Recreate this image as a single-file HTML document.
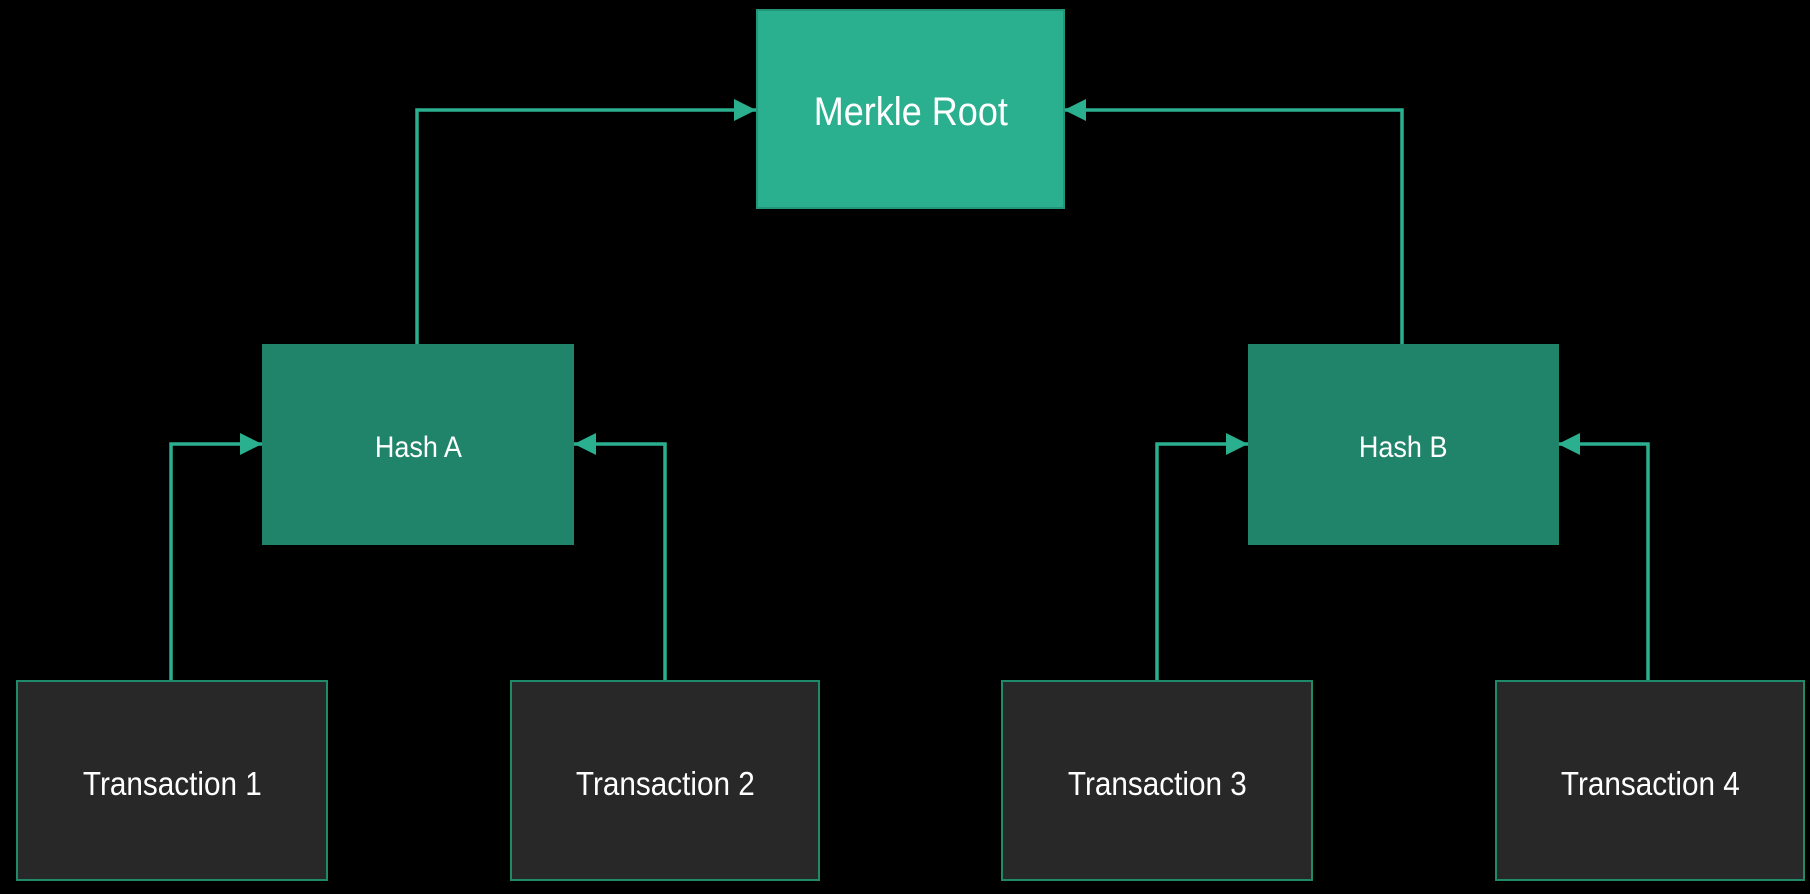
<!DOCTYPE html>
<html><head><meta charset="utf-8"><style>
html,body{margin:0;padding:0;background:#000;}
body{width:1810px;height:894px;position:relative;overflow:hidden;font-family:"Liberation Sans",sans-serif;}
.b{position:absolute;display:flex;align-items:center;justify-content:center;color:#fff;box-sizing:border-box;}
.b span{display:inline-block;transform:scaleX(0.9);position:relative;top:3px;}
.m{background:#2bb08f;border:2px solid #23967a;font-size:40px;}
.h{background:#20846a;font-size:30px;}
.t{background:#282828;border:2px solid #1f8a6a;font-size:33px;}
svg{position:absolute;left:0;top:0;}
</style></head><body>
<svg width="1810" height="894">
<defs>
<marker id="ar" viewBox="0 0 10 10" refX="10" refY="5" markerWidth="22" markerHeight="22" markerUnits="userSpaceOnUse" orient="auto"><path d="M0,0 L10,5 L0,10z" fill="#2bb08f"/></marker></defs>
<g fill="none" stroke="#2bb08f" stroke-width="3.5">
<path d="M417,344 V110 H756" marker-end="url(#ar)"/>
<path d="M1402,344 V110 H1064" marker-end="url(#ar)"/>
<path d="M171,680 V444 H262" marker-end="url(#ar)"/>
<path d="M665,680 V444 H574" marker-end="url(#ar)"/>
<path d="M1157,680 V444 H1248" marker-end="url(#ar)"/>
<path d="M1648,680 V444 H1558" marker-end="url(#ar)"/>
</g></svg>
<div class="b m" style="left:756px;top:9px;width:309px;height:200px;"><span>Merkle Root</span></div>
<div class="b h" style="left:262px;top:344px;width:312px;height:201px;"><span>Hash A</span></div>
<div class="b h" style="left:1248px;top:344px;width:311px;height:201px;"><span>Hash B</span></div>
<div class="b t" style="left:16px;top:680px;width:312px;height:201px;"><span>Transaction 1</span></div>
<div class="b t" style="left:510px;top:680px;width:310px;height:201px;"><span>Transaction 2</span></div>
<div class="b t" style="left:1001px;top:680px;width:312px;height:201px;"><span>Transaction 3</span></div>
<div class="b t" style="left:1495px;top:680px;width:310px;height:201px;"><span>Transaction 4</span></div>
</body></html>
